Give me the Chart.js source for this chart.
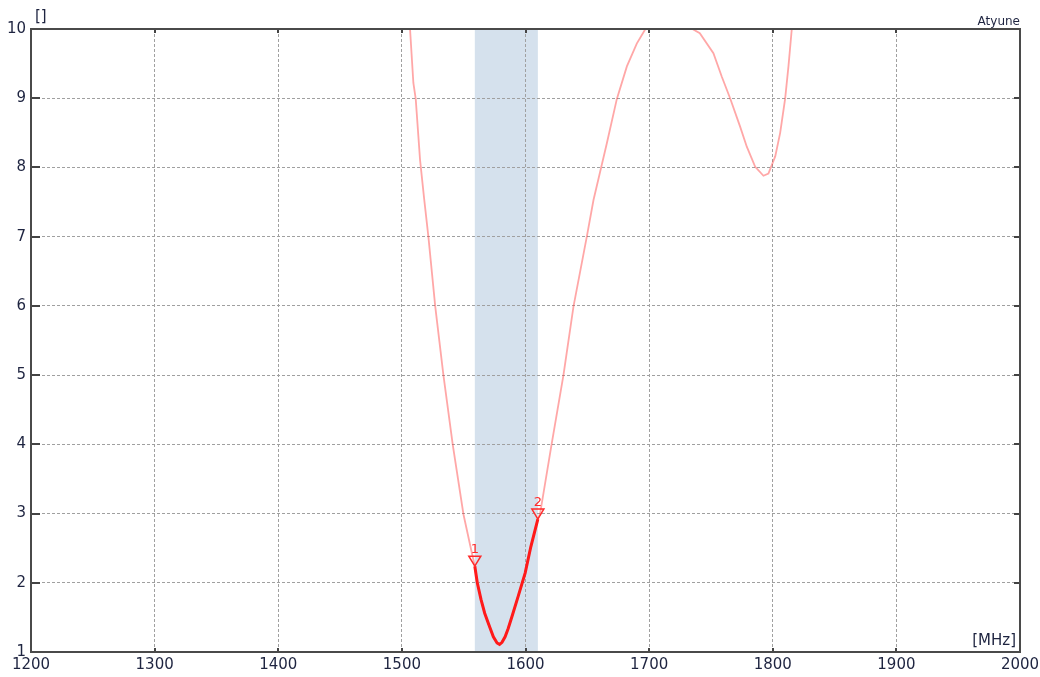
<!DOCTYPE html>
<html>
<head>
<meta charset="utf-8">
<script src="https://cdn.jsdelivr.net/npm/chart.js@4"></script>
<style>
  body { margin: 0; background: #fff; }
  #caja { width: 1040px; height: 677px; position: relative; }
</style>
</head>
<body>
<div id="caja"><canvas id="grafica"></canvas></div>
<script>
// traza medida (MHz, valor)
const frecuencias = [1500, 1506.6, 1509.3, 1511.2, 1514.7, 1518, 1521.5, 1527, 1533.6, 1541.2, 1549.8, 1556.6,
    1559, 1561, 1564, 1567, 1570, 1574, 1577, 1579, 1581, 1583.5, 1586, 1589, 1594, 1599.7, 1604.3, 1610,
    1611.8, 1621, 1630.7, 1638.8, 1649.6, 1655, 1665.8, 1673.9, 1682, 1690, 1697, 1705, 1715, 1725, 1731,
    1735, 1741, 1752, 1758.8, 1765.5, 1773.6, 1779, 1785.8, 1792.5, 1796.5, 1802, 1806, 1810, 1812.7, 1815.4, 1820];
const valores = [10.9, 10.0, 9.22, 8.99, 8.11, 7.55, 6.99, 5.99, 5.0, 3.99, 2.99, 2.43,
    2.24, 2.0, 1.76, 1.56, 1.41, 1.22, 1.13, 1.11, 1.14, 1.22, 1.34, 1.51, 1.80, 2.14, 2.52, 2.92,
    3.0, 3.99, 5.0, 5.99, 7.0, 7.53, 8.35, 8.99, 9.46, 9.79, 10.0, 10.2, 10.25, 10.1, 10.0,
    10.0, 9.94, 9.65, 9.31, 9.0, 8.59, 8.30, 8.01, 7.88, 7.91, 8.16, 8.5, 8.99, 9.46, 10.0, 10.8];

// banda resaltada
const bandaInicio = 1559;
const bandaFin = 1610;

// marcadores
const marcadorFrec = [1559, 1610];
const marcadorValor = [2.24, 2.92];
const marcadorTexto = ['1', '2'];

const ticksX = [1200, 1300, 1400, 1500, 1600, 1700, 1800, 1900, 2000];
const ticksY = [1, 2, 3, 4, 5, 6, 7, 8, 9, 10];

const fuente = '"DejaVu Sans", Verdana, sans-serif';
const colorTexto = '#1e2440';

const traza = frecuencias.map((f, i) => ({ x: f, y: valores[i] }));
const tramo = traza.filter(p => p.x >= bandaInicio && p.x <= bandaFin);

const pluginDibujo = {
    id: 'dibujo',
    beforeDraw(chart) {
        const ctx = chart.ctx;
        const a = chart.chartArea;
        const sx = chart.scales.x;
        ctx.save();
        ctx.fillStyle = '#ffffff';
        ctx.fillRect(0, 0, chart.width, chart.height);
        const x1 = sx.getPixelForValue(bandaInicio);
        const x2 = sx.getPixelForValue(bandaFin);
        ctx.fillStyle = '#d5e1ed';
        ctx.fillRect(x1, a.top, x2 - x1, a.bottom - a.top);
        ctx.restore();
    },
    afterDraw(chart) {
        const ctx = chart.ctx;
        const a = chart.chartArea;
        const sx = chart.scales.x;
        const sy = chart.scales.y;
        ctx.save();
        // marcas cortas hacia dentro
        ctx.strokeStyle = '#444';
        ctx.lineWidth = 2;
        ctx.beginPath();
        ticksX.slice(1, -1).forEach(v => {
            const x = Math.round(sx.getPixelForValue(v));
            ctx.moveTo(x, a.top); ctx.lineTo(x, a.top + 4);
            ctx.moveTo(x, a.bottom); ctx.lineTo(x, a.bottom - 4);
        });
        ticksY.slice(1, -1).forEach(v => {
            const y = Math.round(sy.getPixelForValue(v));
            ctx.moveTo(a.left, y); ctx.lineTo(a.left + 9, y);
            ctx.moveTo(a.right, y); ctx.lineTo(a.right - 6, y);
        });
        ctx.stroke();
        // marco
        ctx.strokeStyle = '#4a4a4a';
        ctx.lineWidth = 2;
        ctx.strokeRect(a.left, a.top, a.right - a.left, a.bottom - a.top);

        // marcadores
        ctx.strokeStyle = '#ff2a2a';
        ctx.fillStyle = '#ff2a2a';
        ctx.lineWidth = 1.5;
        ctx.font = '13px ' + fuente;
        ctx.textAlign = 'center';
        ctx.textBaseline = 'bottom';
        marcadorFrec.forEach((f, i) => {
            const x = sx.getPixelForValue(f);
            const y = sy.getPixelForValue(marcadorValor[i]);
            ctx.beginPath();
            ctx.moveTo(x - 6, y - 10);
            ctx.lineTo(x + 6, y - 10);
            ctx.lineTo(x, y);
            ctx.closePath();
            ctx.stroke();
            ctx.fillText(marcadorTexto[i], x, y - 10);
        });

        // textos
        ctx.fillStyle = colorTexto;
        ctx.font = '15px ' + fuente;
        ctx.textAlign = 'left';
        ctx.textBaseline = 'alphabetic';
        ctx.fillText('[]', a.left + 4, a.top - 8);
        ctx.textAlign = 'right';
        ctx.fillText('[MHz]', a.right - 4, a.bottom - 7);
        ctx.font = '12px ' + fuente;
        ctx.fillText('Atyune', a.right, a.top - 4);
        ctx.restore();
    }
};

new Chart(document.getElementById('grafica'), {
    type: 'line',
    data: {
        datasets: [
            {
                data: tramo,
                borderColor: '#ff1a1a',
                borderWidth: 3,
                pointRadius: 0,
                tension: 0,
                clip: 0
            },
            {
                data: traza,
                borderColor: 'rgba(255, 60, 60, 0.45)',
                borderWidth: 1.8,
                pointRadius: 0,
                tension: 0,
                clip: 0
            }
        ]
    },
    options: {
        responsive: true,
        maintainAspectRatio: false,
        animation: false,
        layout: { padding: { top: 29, right: 20, left: 0, bottom: 0 }, autoPadding: false },
        plugins: { legend: { display: false }, tooltip: { enabled: false } },
        scales: {
            x: {
                type: 'linear',
                min: 1200,
                max: 2000,
                afterFit: s => { s.height = 25; s.paddingLeft = 0; s.paddingRight = 0; },
                afterBuildTicks: s => { s.ticks = ticksX.map(v => ({ value: v })); },
                ticks: {
                    padding: 4,
                    color: colorTexto,
                    font: { family: fuente, size: 15 },
                    maxRotation: 0,
                    autoSkip: false,
                    callback: v => String(v)
                },
                grid: { color: '#a0a0a0', lineWidth: 1, drawTicks: false },
                border: { color: '#4a4a4a', width: 2, dash: [3, 2] }
            },
            y: {
                type: 'linear',
                min: 1,
                max: 10,
                afterFit: s => { s.width = 31; s.paddingTop = 0; s.paddingBottom = 0; },
                afterBuildTicks: s => { s.ticks = ticksY.map(v => ({ value: v })); },
                ticks: {
                    padding: 5,
                    color: colorTexto,
                    font: { family: fuente, size: 15 },
                    callback: v => String(v)
                },
                grid: { color: '#a0a0a0', lineWidth: 1, drawTicks: false },
                border: { color: '#4a4a4a', width: 2, dash: [3, 2] }
            }
        }
    },
    plugins: [pluginDibujo]
});
</script>
</body>
</html>
